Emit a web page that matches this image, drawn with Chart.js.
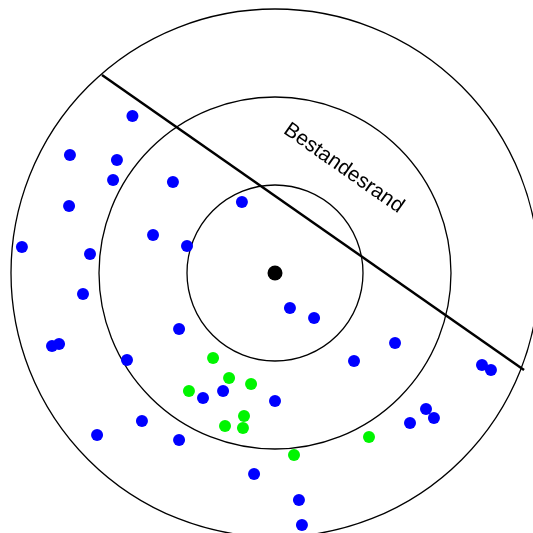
<!DOCTYPE html>
<html>
<head>
<meta charset="utf-8">
<script src="https://cdn.jsdelivr.net/npm/chart.js@4"></script>
<style>
  html, body { margin: 0; padding: 0; background: #ffffff; }
  #plot { display: block; }
</style>
</head>
<body>
<canvas id="plot" width="533" height="533"></canvas>
<script>
// sample plot around the centre tree, units in metres

const ringRadii = [5, 10, 15];

const blueX = [-8.1, -11.65, -8.98, -9.2, -5.8, -11.7, -1.88, -14.38, -10.51, -6.93, -5.0,
  -10.91, -5.45, -12.67, -12.27, -8.41, -4.09, -2.95, -7.56, -10.11, -5.45, -1.19,
  0.85, 2.22, 6.82, 4.49, 11.76, 12.27, 0.0, 8.58, 9.03, 7.67, 1.36, 1.53];
const blueY = [8.92, 6.7, 6.42, 5.28, 5.17, 3.81, 4.03, 1.48, 1.08, 2.16, 1.53,
  -1.19, -3.18, -4.15, -4.03, -4.94, -7.1, -6.7, -8.41, -9.2, -9.49, -11.42,
  -1.99, -2.56, -3.98, -5.0, -5.23, -5.51, -7.27, -7.73, -8.24, -8.52, -12.9, -14.32];

const greenX = [-3.52, -2.61, -1.36, -4.89, -1.76, -2.84, -1.82, 5.34, 1.08];
const greenY = [-4.83, -5.97, -6.31, -6.7, -8.13, -8.69, -8.81, -9.32, -10.34];

const edgeX = [-9.83, 14.15];
const edgeY = [11.25, -5.51];
const edgeLabel = 'Bestandesrand';
const edgeLabelPos = [3.9, 5.95];

function toPoints(xs, ys) {
    return xs.map((x, i) => ({ x: x, y: ys[i] }));
}

const ringsPlugin = {
    id: 'rings',
    beforeDatasetsDraw(chart) {
        const ctx = chart.ctx;
        const sx = chart.scales.x;
        const sy = chart.scales.y;
        const cx = sx.getPixelForValue(0);
        const cy = sy.getPixelForValue(0);
        ctx.save();
        ctx.strokeStyle = '#000000';
        ctx.lineWidth = 1.3;
        ringRadii.forEach(r => {
            const rp = sx.getPixelForValue(r) - cx;
            ctx.beginPath();
            ctx.arc(cx, cy, rp, 0, Math.PI * 2);
            ctx.stroke();
        });
        ctx.restore();
    },
    afterDatasetsDraw(chart) {
        const ctx = chart.ctx;
        const sx = chart.scales.x;
        const sy = chart.scales.y;
        const x0 = sx.getPixelForValue(edgeX[0]), y0 = sy.getPixelForValue(edgeY[0]);
        const x1 = sx.getPixelForValue(edgeX[1]), y1 = sy.getPixelForValue(edgeY[1]);
        const angle = Math.atan2(y1 - y0, x1 - x0);
        ctx.save();
        ctx.translate(sx.getPixelForValue(edgeLabelPos[0]), sy.getPixelForValue(edgeLabelPos[1]));
        ctx.rotate(angle);
        ctx.font = '21px "Liberation Sans", Arial, sans-serif';
        ctx.fillStyle = '#000000';
        ctx.textAlign = 'center';
        ctx.textBaseline = 'middle';
        ctx.fillText(edgeLabel, 0, 0);
        ctx.restore();
    }
};

new Chart(document.getElementById('plot').getContext('2d'), {
    type: 'scatter',
    data: {
        datasets: [
            {
                label: 'Bestandesrand',
                type: 'line',
                data: toPoints(edgeX, edgeY),
                borderColor: '#000000',
                borderWidth: 2.5,
                pointRadius: 0,
                fill: false,
                clip: false,
                order: 3
            },
            {
                label: 'blau',
                data: toPoints(blueX, blueY),
                backgroundColor: '#0000ff',
                borderColor: '#0000ff',
                pointRadius: 6,
                borderWidth: 0,
                clip: false,
                order: 2
            },
            {
                label: 'gruen',
                data: toPoints(greenX, greenY),
                backgroundColor: '#00f500',
                borderColor: '#00f500',
                pointRadius: 6,
                borderWidth: 0,
                clip: false,
                order: 1
            },
            {
                label: 'Zentrum',
                data: [{ x: 0, y: 0 }],
                backgroundColor: '#000000',
                borderColor: '#000000',
                pointRadius: 7.5,
                borderWidth: 0,
                clip: false,
                order: 0
            }
        ]
    },
    options: {
        responsive: false,
        animation: false,
        layout: { padding: 0, autoPadding: false },
        plugins: {
            legend: { display: false },
            tooltip: { enabled: false }
        },
        scales: {
            x: { type: 'linear', display: false, min: -15.625, max: 14.659 },
            y: { type: 'linear', display: false, min: -14.773, max: 15.511 }
        }
    },
    plugins: [ringsPlugin]
});
</script>
</body>
</html>
